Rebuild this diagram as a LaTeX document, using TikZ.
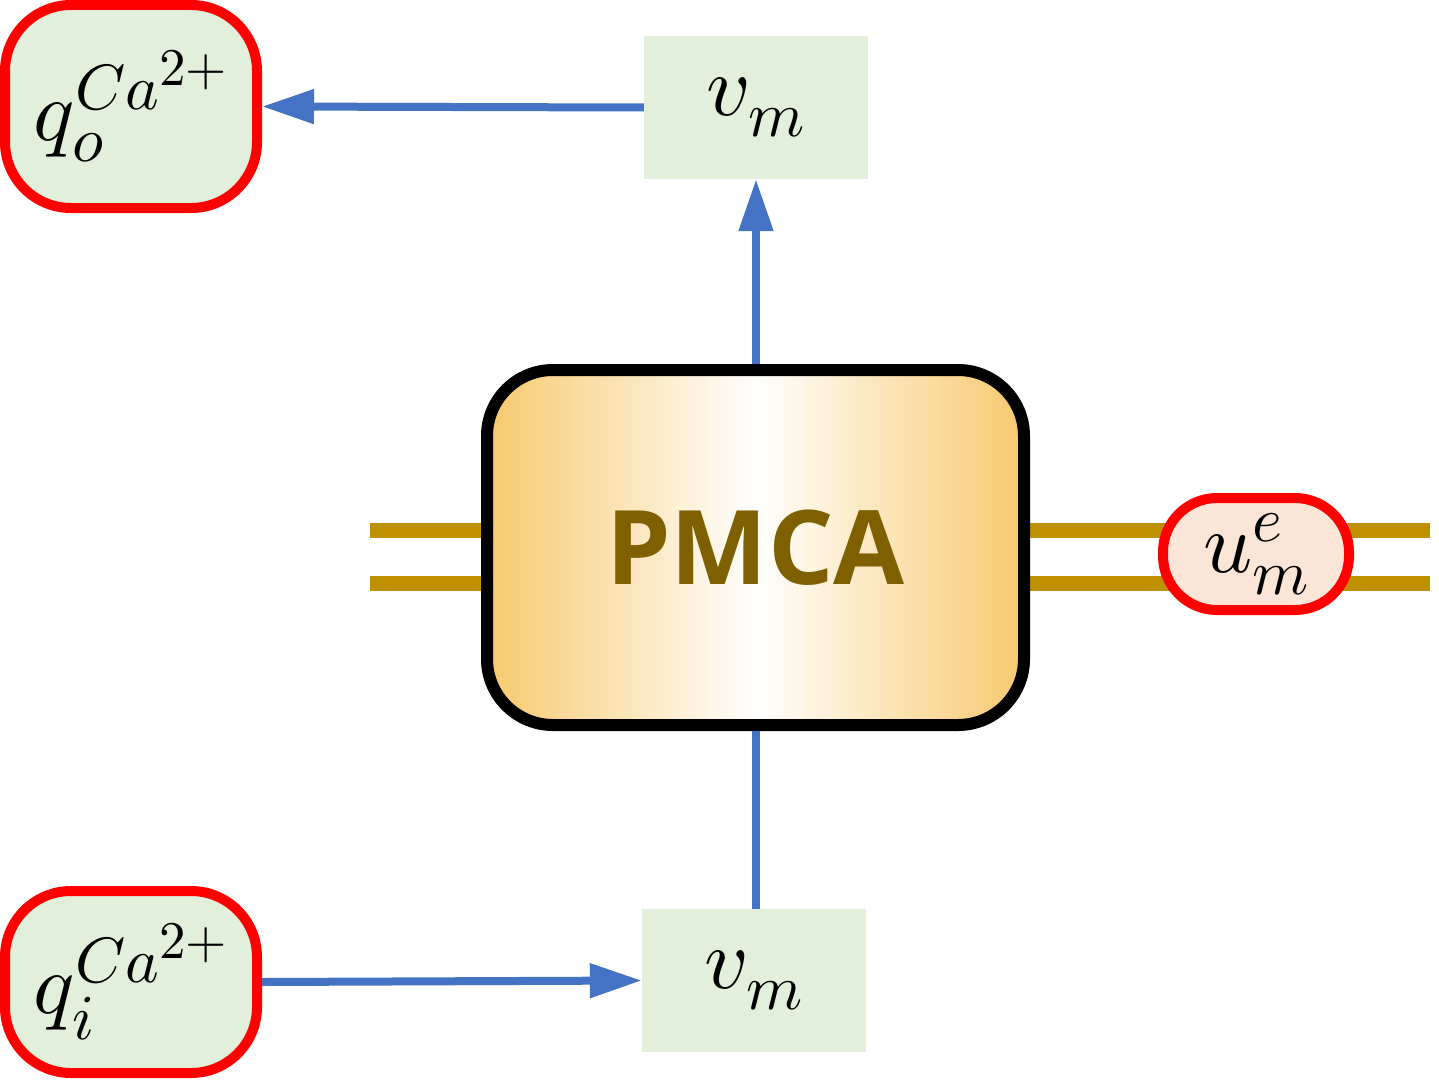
\documentclass[tikz,border=0pt]{standalone}
\usepackage{fontspec}
\usepackage{unicode-math}
\setmathfont{Latin Modern Math}
\DeclareMathSizes{86}{86}{64}{53}
\newfontfamily\pmcafont{Open Sans}[BoldFont={* Bold}]
\usetikzlibrary{arrows.meta,backgrounds}
\definecolor{boxred}{HTML}{FF0000}
\definecolor{boxgreen}{HTML}{E2EFDA}
\definecolor{boxpeach}{HTML}{FBE5D6}
\definecolor{arrblue}{HTML}{4472C4}
\definecolor{bargold}{HTML}{BF9000}
\definecolor{pmcatext}{HTML}{7F6000}
\definecolor{pmcaorange}{HTML}{F7C96E}
\tikzset{
  x=1pt,y=-1pt,
  redbox/.style={draw=boxred,line width=10pt,rounded corners=66pt,fill=boxgreen,inner sep=0pt,
     font=\fontsize{86}{100}\selectfont},
  greenbox/.style={fill=boxgreen,inner sep=0pt,minimum width=224pt,minimum height=143pt,
     font=\fontsize{86}{100}\selectfont},
  flow/.style={draw=arrblue,line width=8pt},
  flowarrow/.style={flow,-{Triangle[length=52pt,width=33pt]}},
  goldbar/.style={draw=bargold,line width=15pt},
}
\begin{document}
\begin{tikzpicture}
\useasboundingbox (0,0) rectangle (1439,1081);
% nodes
\node[redbox,minimum width=252pt,minimum height=203pt] (qo) at (131,106.5) {$q_o^{Ca^{2+}}$};
\node[greenbox] (vmtop) at (756,107.5) {$v_m$};
\node[draw=black,line width=12pt,rounded corners=66pt,minimum width=537pt,minimum height=355pt,
      inner sep=0pt,left color=pmcaorange,right color=pmcaorange,middle color=white,
      text=pmcatext,font=\pmcafont\bfseries\fontsize{103}{120}\selectfont] (pmca) at (755.5,547.5) {PMCA};
\node[redbox,fill=boxpeach,rounded corners=54pt,minimum width=186pt,minimum height=112pt] (ume) at (1256,554) {$u_m^e$};
\node[redbox,minimum width=252pt,minimum height=182pt] (qi) at (131,982) {$q_i^{Ca^{2+}}$};
\node[greenbox] (vmbot) at (754,980.5) {$v_m$};
% bars
\coordinate (la) at (370,530);
\coordinate (lb) at (370,583);
\coordinate (ra) at (1430,530);
\coordinate (rb) at (1430,583);
\begin{scope}[on background layer]
\draw[goldbar] (la) -- (la -| pmca.west);
\draw[goldbar] (lb) -- (lb -| pmca.west);
\draw[goldbar] (ra -| pmca.east) -- (ra);
\draw[goldbar] (rb -| pmca.east) -- (rb);
\end{scope}
% connectors
\draw[flowarrow] (vmtop.west) -- (qo.east);
\draw[flowarrow] (pmca.north -| vmtop.south) -- (vmtop.south);
\draw[flow] (pmca.south) -- (pmca.south |- vmbot.north);
\draw[flowarrow] (qi.east) -- (vmbot.west);
\end{tikzpicture}
\end{document}
